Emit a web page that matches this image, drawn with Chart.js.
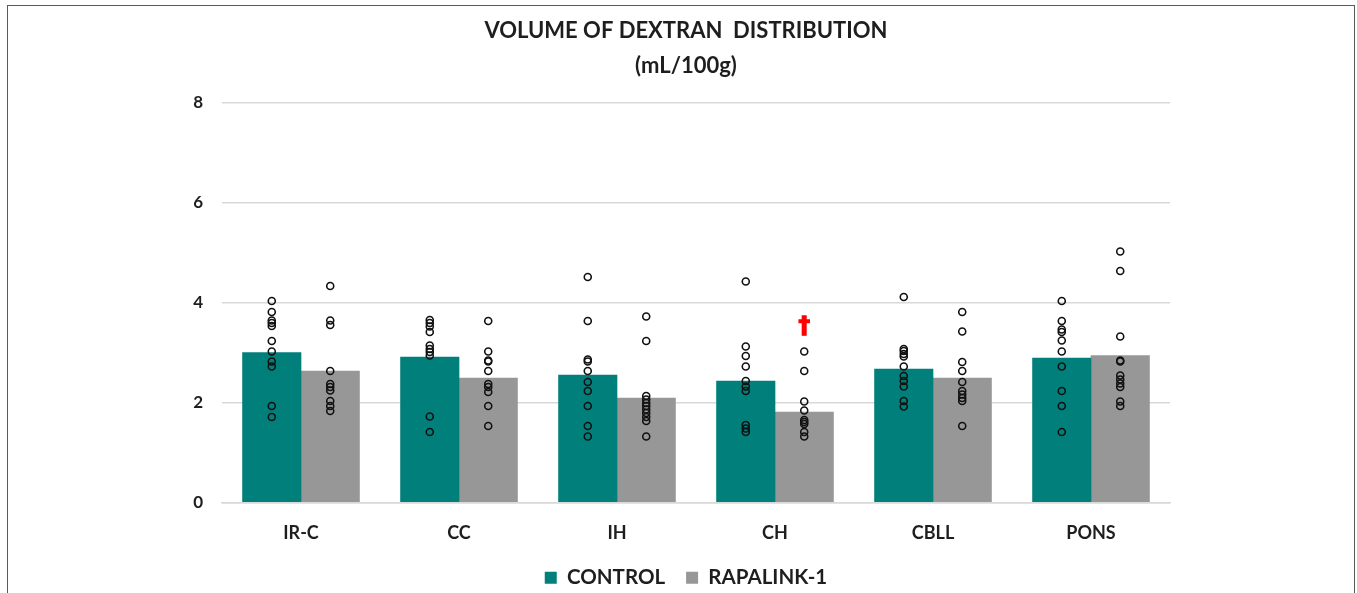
<!DOCTYPE html>
<html>
<head>
<meta charset="utf-8">
<script src="https://cdn.jsdelivr.net/npm/chart.js@4.4.1/dist/chart.umd.min.js"></script>
<style>
  html, body { margin: 0; padding: 0; background: #fff; overflow: hidden; }
  #frame { position: absolute; left: 7px; top: 5px; width: 1346px; height: 700px; border: 1.5px solid #5a5a5a; }
  #wrap { position: absolute; left: 0; top: 0; width: 1357px; height: 598px; }
</style>
</head>
<body>
<div id="frame"></div>
<div id="wrap"><canvas id="barChart"></canvas></div>
<script>
// data
const categories = ['IR-C', 'CC', 'IH', 'CH', 'CBLL', 'PONS'];
const controlMeans = [3.00, 2.91, 2.55, 2.43, 2.67, 2.89];
const rapalinkMeans = [2.63, 2.49, 2.09, 1.81, 2.49, 2.94];
const controlPoints = [
    [4.03, 3.81, 3.64, 3.59, 3.53, 3.23, 3.02, 2.82, 2.72, 1.93, 1.71],
    [3.65, 3.59, 3.52, 3.41, 3.14, 3.07, 3.01, 2.94, 1.72, 1.41],
    [4.51, 3.63, 2.86, 2.82, 2.63, 2.41, 2.23, 1.93, 1.53, 1.32],
    [4.42, 3.12, 2.93, 2.72, 2.43, 2.32, 2.23, 1.55, 1.48, 1.41],
    [4.11, 3.07, 3.03, 2.97, 2.92, 2.72, 2.53, 2.43, 2.32, 2.03, 1.92],
    [4.03, 3.63, 3.46, 3.41, 3.24, 3.02, 2.72, 2.23, 1.93, 1.41]
];
const rapalinkPoints = [
    [4.33, 3.64, 3.55, 2.63, 2.37, 2.31, 2.24, 2.03, 1.93, 1.83],
    [3.63, 3.02, 2.84, 2.82, 2.63, 2.37, 2.31, 2.21, 1.93, 1.53],
    [3.72, 3.23, 2.13, 2.06, 1.99, 1.93, 1.86, 1.79, 1.71, 1.63, 1.32],
    [3.02, 2.63, 2.02, 1.84, 1.65, 1.61, 1.57, 1.41, 1.32],
    [3.81, 3.42, 2.81, 2.63, 2.41, 2.23, 2.16, 2.09, 2.03, 1.53],
    [5.02, 4.63, 3.32, 2.84, 2.82, 2.54, 2.46, 2.38, 2.31, 2.02, 1.93]
];
const yTicks = [0, 2, 4, 6, 8];
const daggerCategory = 'CH';
const daggerValue = 3.5;

const FONT = 'Lato, "Open Sans", sans-serif';
const TEXT = '#1e1e1e';
const groupWidth = 0.74;          // share of a category taken by the two bars
const barOffset = groupWidth / 4; // centre of each bar from the category centre

function toBars(means, shift) {
    return means.map((v, i) => ({ x: i + shift, y: v }));
}
function toPoints(lists, shift) {
    const out = [];
    lists.forEach((vals, i) => vals.forEach(v => out.push({ x: i + shift, y: v })));
    return out;
}

const dotStyle = {
    type: 'scatter',
    pointRadius: 3.5,
    pointBorderWidth: 1.6,
    pointBorderColor: '#111',
    pointBackgroundColor: 'rgba(0,0,0,0)',
    order: 0
};

// red dagger marking the CH / RAPALINK-1 group
const daggerPlugin = {
    id: 'dagger',
    afterDatasetsDraw(chart) {
        const i = categories.indexOf(daggerCategory);
        const x = chart.scales.x.getPixelForValue(i + barOffset);
        const y = chart.scales.y.getPixelForValue(daggerValue);
        const ctx = chart.ctx;
        ctx.save();
        ctx.fillStyle = '#ff0000';
        ctx.strokeStyle = '#ff0000';
        ctx.lineWidth = 1.3;
        ctx.font = 'bold 23px "DejaVu Sans", sans-serif';
        ctx.textAlign = 'center';
        ctx.textBaseline = 'middle';
        ctx.fillText('\u2020', x, y);
        ctx.strokeText('\u2020', x, y);
        ctx.restore();
    }
};

const ctx = document.getElementById('barChart').getContext('2d');
new Chart(ctx, {
    type: 'bar',
    data: {
        datasets: [
            { label: 'CONTROL', data: toBars(controlMeans, -barOffset), backgroundColor: '#007f7b', order: 1 },
            { label: 'RAPALINK-1', data: toBars(rapalinkMeans, barOffset), backgroundColor: '#979797', order: 1 },
            Object.assign({ label: 'control points', data: toPoints(controlPoints, -barOffset) }, dotStyle),
            Object.assign({ label: 'rapalink points', data: toPoints(rapalinkPoints, barOffset) }, dotStyle)
        ]
    },
    options: {
        responsive: true,
        maintainAspectRatio: false,
        animation: false,
        layout: { padding: { left: 15, right: 0, top: 0, bottom: 0 } },
        datasets: { bar: { grouped: false, barPercentage: 1, categoryPercentage: 1 } },
        scales: {
            x: {
                type: 'linear',
                min: -0.5,
                max: categories.length - 0.5,
                offset: false,
                afterBuildTicks(scale) { scale.ticks = categories.map((c, i) => ({ value: i })); },
                grid: { display: false, drawTicks: false },
                border: { color: '#d9d9d9', width: 1.5 },
                ticks: {
                    color: TEXT, padding: 20, maxRotation: 0, autoSkip: false,
                    font: { family: FONT, size: 18, weight: 'bold' },
                    callback: value => categories[value]
                },
                afterFit(scale) { scale.height = 44; }
            },
            y: {
                min: 0,
                max: 8,
                afterBuildTicks(scale) { scale.ticks = yTicks.map(v => ({ value: v })); },
                grid: { color: '#d9d9d9', lineWidth: 1.5, drawTicks: false },
                border: { display: false },
                ticks: { color: TEXT, padding: 19, font: { family: FONT, size: 17, weight: 'bold' } },
                afterFit(scale) { scale.width = 207; }
            },
            yRight: {
                position: 'right',
                grid: { display: false, drawTicks: false },
                border: { display: false },
                ticks: { display: false },
                afterFit(scale) { scale.width = 187; }
            }
        },
        plugins: {
            title: {
                display: true,
                text: ['VOLUME OF DEXTRAN  DISTRIBUTION', '(mL/100g)'],
                color: TEXT,
                font: { family: FONT, size: 22, weight: 'bold', lineHeight: 1.6 },
                padding: { top: 13, bottom: 19 }
            },
            legend: {
                position: 'bottom',
                labels: {
                    filter: item => item.datasetIndex < 2,
                    boxWidth: 12,
                    boxHeight: 12,
                    padding: 21,
                    color: TEXT,
                    font: { family: FONT, size: 20.5, weight: 'bold' }
                }
            },
            tooltip: { enabled: false }
        }
    },
    plugins: [daggerPlugin]
});
</script>
</body>
</html>
